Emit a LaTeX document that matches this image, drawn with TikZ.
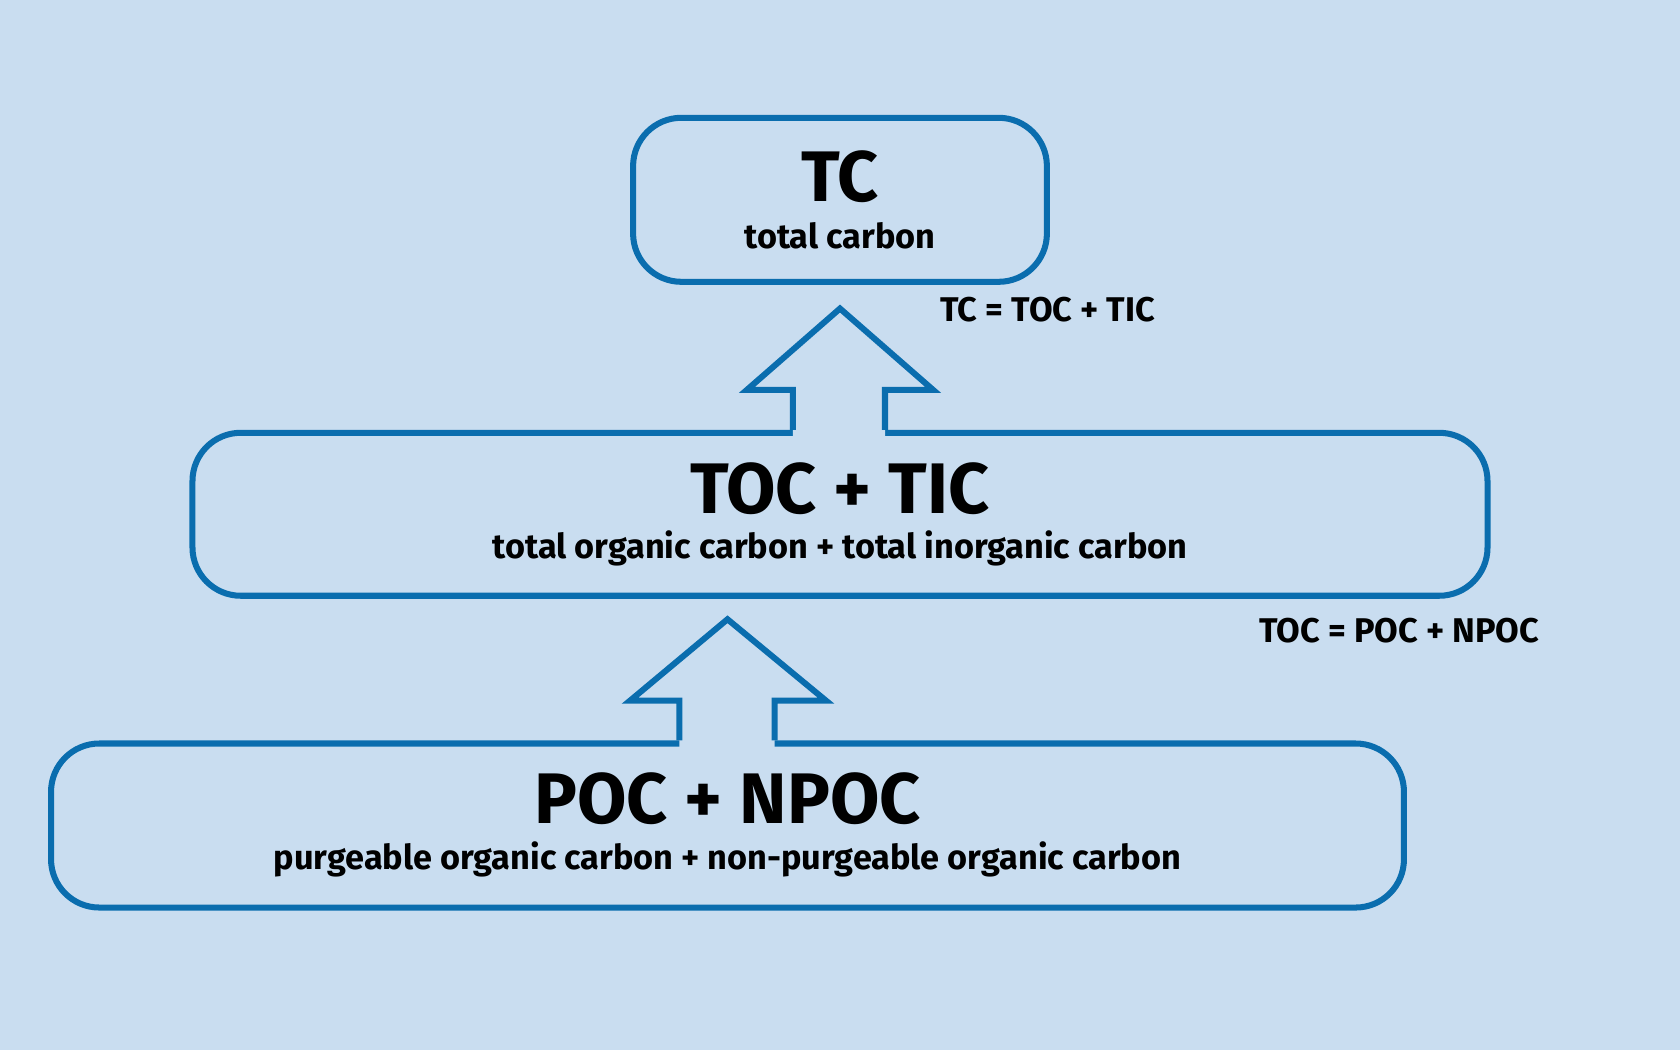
\documentclass[tikz,border=0pt]{standalone}
\usepackage{fontspec}
\setmainfont{Fira Sans}
\usetikzlibrary{positioning}
\definecolor{bgblue}{HTML}{C9DDF0}
\definecolor{lineblue}{HTML}{0A6DAE}
\tikzset{
    level/.style={rectangle,draw=lineblue,line width=1.6pt,rounded corners=0.45cm,inner sep=0pt},
    title/.style={font=\fontsize{19}{23}\selectfont\bfseries},
    sub/.style={font=\fontsize{9.1}{11}\selectfont\bfseries},
    blockarrow/.style={fill=bgblue,draw=lineblue,line width=1.6pt,line join=miter}
}
\begin{document}
\begin{tikzpicture}[x=0.01cm,y=-0.01cm]
    \fill[bgblue] (0,0) rectangle (1568,980);

    % Levels
    \node[level,minimum width=3.86cm,minimum height=1.53cm] (tc_box) at (784,186.5) {};
    \node[level,minimum width=12.08cm,minimum height=1.52cm] (toc_box) at (784,480) {};
    \node[level,minimum width=12.62cm,minimum height=1.53cm] (poc_box) at (679,770.5) {};

    \node[title] (tc) at (784,165) {TC};
    \node[sub] (tc_sub) at (784,220) {total carbon};
    \node[title] (toc) at (784,456) {TOC + TIC};
    \node[sub] (toc_sub) at (784,512) {total organic carbon + total inorganic carbon};
    \node[title] (poc) at (679,745) {POC + NPOC};
    \node[sub] (poc_sub) at (679,802) {purgeable organic carbon + non-purgeable organic carbon};

    % Relations
    \node[sub] (rel_tc) at (978,289) {TC = TOC + TIC};
    \node[sub] (rel_toc) at (1306,589) {TOC = POC + NPOC};

    % Block arrows
    \fill[bgblue] (740,408) -- (740,364) -- (697,364) -- (784,288) -- (871,364) -- (826,364) -- (826,408) -- cycle;
    \draw[blockarrow] (toc_box.north -| 740,0) -- (740,364) -- (697,364) -- (784,288) -- (871,364) -- (826,364) -- (toc_box.north -| 826,0);
    \fill[bgblue] (634,698) -- (634,654) -- (588,654) -- (679,578) -- (771,654) -- (723,654) -- (723,698) -- cycle;
    \draw[blockarrow] (poc_box.north -| 634,0) -- (634,654) -- (588,654) -- (679,578) -- (771,654) -- (723,654) -- (poc_box.north -| 723,0);
\end{tikzpicture}
\end{document}
